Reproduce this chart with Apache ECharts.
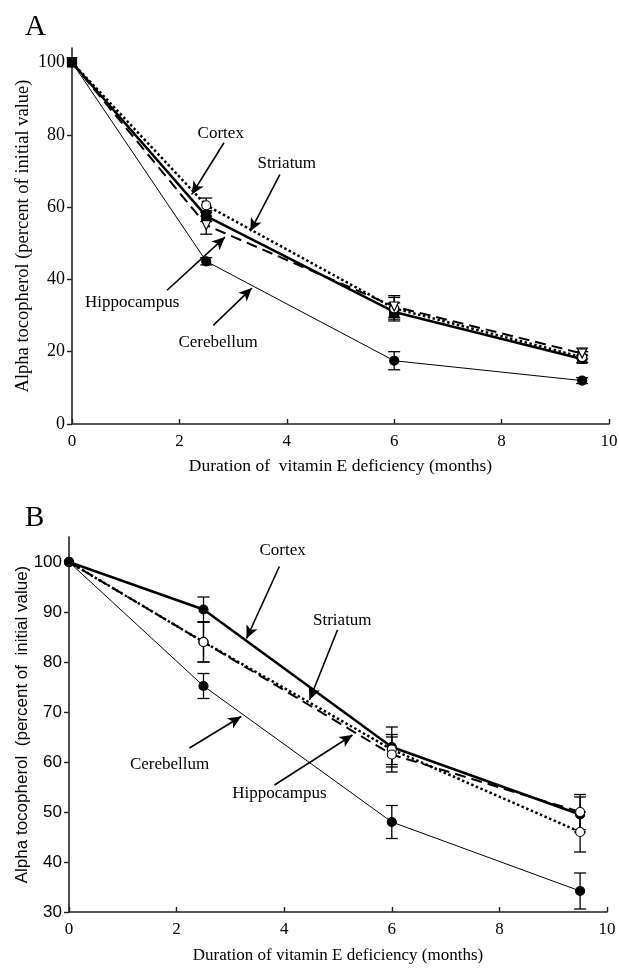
<!DOCTYPE html>
<html>
<head>
<meta charset="utf-8">
<script src="https://cdn.jsdelivr.net/npm/echarts@6/dist/echarts.min.js"></script>
<style>
  html, body { margin: 0; padding: 0; background: #fff; }
  #chart { width: 619px; height: 969px; }
</style>
</head>
<body>
<div id="chart"></div>
<script>
// months of deficiency (same sampling in both panels)
const months = [0, 2.5, 6, 9.5];

// panel A values (percent of initial)
const aCortex = [100, 57.5, 31, 18];
const aStriatum = [100, 60.5, 32, 18.5];
const aHippocampus = [100, 55, 32.5, 19.5];
const aCerebellum = [100, 45, 17.5, 12];
const aCortexErr = [0, 1.5, 2.5, 1];
const aStriatumErr = [0, 2, 3, 1.5];
const aHippocampusErr = [0, 2.5, 3, 1.5];
const aCerebellumErr = [0, 1, 2.5, 0.8];

// panel B values
const bCortex = [100, 90.5, 63, 49.5];
const bStriatum = [100, 84, 62.5, 46];
const bHippocampus = [100, 84, 61.5, 50];
const bCerebellum = [100, 75.2, 48, 34.2];
const bCortexErr = [0, 2.5, 4, 3.5];
const bStriatumErr = [0, 4, 3, 4];
const bHippocampusErr = [0, 4, 3.5, 3.5];
const bCerebellumErr = [0, 2.5, 3.3, 3.6];

// tick labels
const xTicks = [0, 2, 4, 6, 8, 10];
const aYTicks = [0, 20, 40, 60, 80, 100];
const bYTicks = [30, 40, 50, 60, 70, 80, 90, 100];

// annotations: [name, labelX, labelY, arrowFromX, arrowFromY, arrowToX, arrowToY]
const aNotes = [
    ['Cortex', 2.77, 80.4, 2.83, 77.8, 2.23, 63.5],
    ['Striatum', 4.0, 72.1, 3.87, 69.0, 3.32, 53.3],
    ['Hippocampus', 1.12, 33.7, 1.77, 37, 2.85, 51.7],
    ['Cerebellum', 2.72, 22.5, 2.63, 27.3, 3.35, 37.6]
];
const bNotes = [
    ['Cortex', 3.97, 102.3, 3.91, 99.1, 3.30, 84.7],
    ['Striatum', 5.08, 88.3, 4.99, 86.4, 4.47, 72.4],
    ['Cerebellum', 1.87, 59.4, 2.24, 62.8, 3.20, 69.1],
    ['Hippocampus', 3.91, 53.7, 3.82, 55.4, 5.27, 65.4]
];

const serif = 'Liberation Serif';
const sans = 'Liberation Sans';

const pairs = (vals) => months.map((m, i) => [m, vals[i]]);
const errPairs = (vals, errs) => months.map((m, i) => [m, vals[i], errs[i]]);

function lineSeries(name, idx, vals, width, type, symbol, filled, rotate) {
    return {
        name: name,
        type: 'line',
        xAxisIndex: idx,
        yAxisIndex: idx,
        data: pairs(vals),
        symbol: symbol,
        symbolSize: 9,
        symbolRotate: rotate || 0,
        showAllSymbol: true,
        lineStyle: { color: '#000', width: width, type: type },
        itemStyle: { color: filled ? '#000' : '#fff', borderColor: '#000', borderWidth: 1.2 },
        z: 3,
        animation: false
    };
}

function errorSeries(idx, rows) {
    return {
        type: 'custom',
        xAxisIndex: idx,
        yAxisIndex: idx,
        data: rows,
        z: 2,
        animation: false,
        renderItem: function (params, api) {
            const x = api.value(0), y = api.value(1), e = api.value(2);
            if (!e) return null;
            const top = api.coord([x, y + e]);
            const bot = api.coord([x, y - e]);
            const hw = 6;
            const st = { stroke: '#000', lineWidth: 1.3 };
            return {
                type: 'group',
                children: [
                    { type: 'line', shape: { x1: top[0], y1: top[1], x2: bot[0], y2: bot[1] }, style: st },
                    { type: 'line', shape: { x1: top[0] - hw, y1: top[1], x2: top[0] + hw, y2: top[1] }, style: st },
                    { type: 'line', shape: { x1: bot[0] - hw, y1: bot[1], x2: bot[0] + hw, y2: bot[1] }, style: st }
                ]
            };
        }
    };
}

function noteSeries(idx, notes) {
    return {
        type: 'scatter',
        xAxisIndex: idx,
        yAxisIndex: idx,
        symbolSize: 0,
        itemStyle: { opacity: 1 },
        data: notes.map(n => ({ name: n[0], value: [n[1], n[2]] })),
        label: {
            show: true, position: 'inside', formatter: '{b}',
            fontFamily: serif, fontSize: 17, color: '#000',
            textBorderWidth: 0
        },
        markLine: {
            silent: true,
            symbol: ['none', 'arrow'],
            symbolSize: [9, 13],
            lineStyle: { color: '#000', width: 1.6, type: 'solid', opacity: 1 },
            label: { show: false },
            data: notes.map(n => [{ coord: [n[3], n[4]] }, { coord: [n[5], n[6]] }]),
            animation: false
        },
        animation: false
    };
}

function xAxisFor(idx, name, nameSize, gap) {
    return {
        type: 'value', gridIndex: idx, min: 0, max: 10, interval: 2,
        name: name, nameLocation: 'middle', nameGap: gap, nameMoveOverlap: false,
        nameTextStyle: { fontFamily: serif, fontSize: nameSize, color: '#000' },
        axisLine: { lineStyle: { color: '#222', width: 1.6 } },
        axisTick: { inside: true, length: 5, lineStyle: { color: '#222', width: 1.4 } },
        axisLabel: { fontFamily: serif, fontSize: 17, color: '#000', margin: 9 },
        splitLine: { show: false }
    };
}

function yAxisFor(idx, min, max, ticks, name, font, nameSize, labelSize, gap) {
    return {
        type: 'value', gridIndex: idx, min: min, max: max,
        name: name, nameLocation: 'middle', nameGap: gap, nameRotate: 90, nameMoveOverlap: false,
        nameTextStyle: { fontFamily: font, fontSize: nameSize, color: '#000' },
        axisLine: { onZero: false, lineStyle: { color: '#222', width: 1.6 } },
        axisTick: { customValues: ticks, length: 5, lineStyle: { color: '#222', width: 1.4 } },
        axisLabel: { customValues: ticks, fontFamily: font, fontSize: labelSize, color: '#000', margin: 7 },
        splitLine: { show: false }
    };
}

const chart = echarts.init(document.getElementById('chart'));
chart.setOption({
    backgroundColor: '#fff',
    title: [
        { text: 'A', left: 20, top: 8, textStyle: { fontFamily: serif, fontSize: 29, fontWeight: 'normal', color: '#000' } },
        { text: 'B', left: 20, top: 499, textStyle: { fontFamily: serif, fontSize: 29, fontWeight: 'normal', color: '#000' } }
    ],
    grid: [
        { left: 72, right: 10, top: 48, height: 376, outerBoundsMode: 'none' },
        { left: 69, right: 12, top: 537, height: 375, outerBoundsMode: 'none' }
    ],
    xAxis: [
        xAxisFor(0, 'Duration of  vitamin E deficiency (months)', 17.5, 33),
        xAxisFor(1, 'Duration of vitamin E deficiency (months)', 17, 35)
    ],
    yAxis: [
        yAxisFor(0, 0, 104, aYTicks, 'Alpha tocopherol (percent of initial value)', serif, 18.5, 18, 39),
        yAxisFor(1, 30, 105, bYTicks, 'Alpha tocopherol  (percent of  initial value)', sans, 17, 17, 38)
    ],
    series: [
        errorSeries(0, [].concat(
            errPairs(aCortex, aCortexErr), errPairs(aStriatum, aStriatumErr),
            errPairs(aHippocampus, aHippocampusErr), errPairs(aCerebellum, aCerebellumErr))),
        lineSeries('Cortex', 0, aCortex, 2.5, 'solid', 'rect', true),
        lineSeries('Striatum', 0, aStriatum, 2.5, 'dotted', 'circle', false),
        lineSeries('Hippocampus', 0, aHippocampus, 2, [11, 6], 'triangle', false, 180),
        lineSeries('Cerebellum', 0, aCerebellum, 1, 'solid', 'circle', true),
        noteSeries(0, aNotes),

        errorSeries(1, [].concat(
            errPairs(bCortex, bCortexErr), errPairs(bStriatum, bStriatumErr),
            errPairs(bHippocampus, bHippocampusErr), errPairs(bCerebellum, bCerebellumErr))),
        lineSeries('Cortex', 1, bCortex, 2.5, 'solid', 'circle', true),
        lineSeries('Striatum', 1, bStriatum, 2.5, 'dotted', 'circle', false),
        lineSeries('Hippocampus', 1, bHippocampus, 2, [11, 6], 'circle', false),
        lineSeries('Cerebellum', 1, bCerebellum, 1, 'solid', 'circle', true),
        noteSeries(1, bNotes)
    ]
});
</script>
</body>
</html>
